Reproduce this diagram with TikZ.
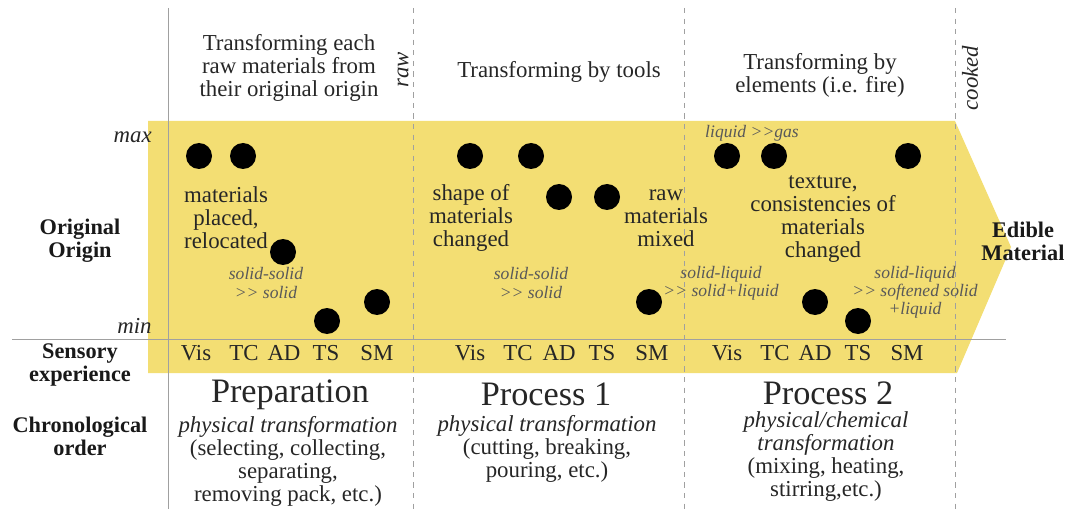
\documentclass[tikz,border=0pt]{standalone}
\usepackage{fontspec}
\setmainfont{Liberation Serif}[Ligatures=NoCommon]
\newfontfamily\timesfont{Liberation Serif}
\usepackage{tikz}
\usetikzlibrary{positioning}
\definecolor{foodyellow}{RGB}{243,222,115}
\definecolor{linegray}{RGB}{160,160,160}

\begin{document}
\begin{tikzpicture}[
		x=0.2mm, y=-0.2mm,
		font=\timesfont\fontsize{13}{13.1}\selectfont,
		dot/.style={circle,fill=black,inner sep=0pt,minimum size=5.2mm},
		txt/.style={align=center,text=black!85,inner sep=0pt},
		note/.style={align=center,inner sep=0pt,text=black!65,
			font=\timesfont\fontsize{10}{10.3}\selectfont\itshape},
		rowlabel/.style={align=center,inner sep=0pt,text=black!90,
			font=\timesfont\fontsize{12.7}{13}\selectfont\bfseries},
		title/.style={inner sep=0pt,text=black!85,font=\timesfont\fontsize{19.5}{20}\selectfont},
		divider/.style={dashed,linegray,thin},
		scale=1]
		\useasboundingbox (0,0) rectangle (1081,509);
		
		% Draw big arrow
		\fill[foodyellow] (148,121) -- (955,121) -- (1011,247) -- (957,373) -- (148,373) -- cycle;
		
		% Draw dividers
		\draw[linegray,thin] (168,8) coordinate (topA) -- (168,509) coordinate (botA);
		\draw[divider] (413,8) coordinate (topB) -- (413,509) coordinate (botB);
		\draw[divider] (684,8) coordinate (topC) -- (684,509) coordinate (botC);
		\draw[divider] (955,8) coordinate (topD) -- (955,509) coordinate (botD);
		\draw[linegray,thin] (12,339) coordinate (left) -- (1006,339) coordinate (right);
		
		% Row labels
		\node[rowlabel] (origin) at (80,241) {Original\\Origin};
		\node[rowlabel] (sensory) at (80,365) {Sensory\\experience};
		\node[rowlabel] (chrono) at (80,436) {Chronological\\order};
		\node[rowlabel] (edible) at (1023,241) {Edible\\Material};
		\node[txt,anchor=east,font=\timesfont\fontsize{13}{13.1}\selectfont\itshape] (max) at (152,137) {max};
		\node[txt,anchor=east,font=\timesfont\fontsize{13}{13.1}\selectfont\itshape] (min) at (152,326) {min};
		
		% Headers
		\node[txt] (hdrprep) at (289,68) {Transforming each\\raw materials from\\their original origin};
		\node[txt] (hdrone) at (559,72) {Transforming by tools};
		\node[txt] (hdrtwo) at (820,75) {Transforming by\\elements (i.e. fire)};
		\node[txt,rotate=90,font=\timesfont\fontsize{13}{13.1}\selectfont\itshape] (raw) at (403,70) {raw};
		\node[txt,rotate=90,font=\timesfont\fontsize{13}{13.1}\selectfont\itshape] (cooked) at (970,78) {cooked};
		
		% Sensory experience
		\foreach \lab/\x in {Vis/196,TC/244,AD/284,TS/326,SM/377,
			Vis/470,TC/518,AD/559,TS/602,SM/652,
			Vis/727,TC/775,AD/815,TS/858,SM/907}
		\node[txt] (s\x) at (\x,353) {\lab};
		
		% Dots
		\node[dot] (p1) at (199,156) {};
		\node[dot] (p2) at (243,156) {};
		\node[dot] (p3) at (283,252) {};
		\node[dot] (p4) at (327,321) {};
		\node[dot] (p5) at (377,302) {};
		\node[dot] (a1) at (470,156) {};
		\node[dot] (a2) at (531,156) {};
		\node[dot] (a3) at (559,197) {};
		\node[dot] (a4) at (607,197) {};
		\node[dot] (a5) at (649,302) {};
		\node[dot] (b1) at (727,156) {};
		\node[dot] (b2) at (774,156) {};
		\node[dot] (b3) at (815,302) {};
		\node[dot] (b4) at (858,321) {};
		\node[dot] (b5) at (908,156) {};
		
		% Texts in the arrow
		\node[txt] (placed) at (226,218) {materials\\placed,\\relocated};
		\node[note] (solidA) at (266,283) {solid-solid\\{>}{>} solid};
		\node[txt] (shape) at (471,218) {shape of\\materials\\changed};
		\node[txt] (mixed) at (666,218) {raw\\materials\\mixed};
		\node[note] (solidB) at (531,283) {solid-solid\\{>}{>} solid};
		\node[note] (gas) at (752,133) {liquid {>}{>}gas};
		\node[txt] (texture) at (823,219) {texture,\\consistencies of\\materials\\changed};
		\node[note] (liquidA) at (721,283) {solid-liquid\\{>}{>} solid+liquid};
		\node[note] (liquidB) at (915,292) {solid-liquid\\{>}{>} softened solid\\+liquid};
		
		% Chronological order
		\node[title] (prep) at (290,395) {Preparation};
		\node[txt] (prepbody) at (288,461) {\textit{physical transformation}\\(selecting, collecting,\\separating,\\removing pack, etc.)};
		\node[title] (procone) at (546,394) {Process 1};
		\node[txt] (procbodyone) at (547,449) {\textit{physical transformation}\\(cutting, breaking,\\pouring, etc.)};
		\node[title] (proctwo) at (828,393) {Process 2};
		\node[txt] (procbodytwo) at (826,457) {\textit{physical/chemical}\\\textit{transformation}\\(mixing, heating,\\stirring,etc.)};
		
\end{tikzpicture}
\end{document}
